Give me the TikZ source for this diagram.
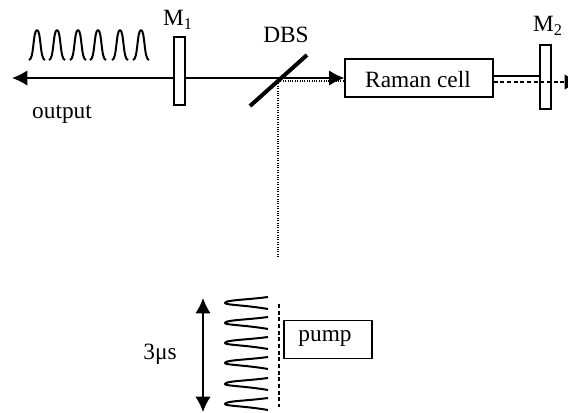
\documentclass[tikz,border=0pt]{standalone}
\usepackage{fontspec}
\setmainfont{Liberation Serif}
\usepackage{tikz}
\usetikzlibrary{arrows.meta,positioning}

\tikzset{
  box/.style={draw,line width=0.9pt,fill=white,inner sep=0pt,minimum width=#1},
  mirror/.style={draw,line width=0.9pt,fill=white,inner sep=0pt,minimum width=8.2pt},
  label/.style={inner sep=0pt,font=\fontsize{17.5}{20}\selectfont},
  beam/.style={line width=1.1pt},
  bigtip/.style={-{Latex[length=11.5pt,width=11.5pt]}},
  pulse/.style={line width=1.5pt,line join=round},
}

\begin{document}
\begin{tikzpicture}[x=0.75pt,y=-0.75pt]
  \useasboundingbox (0,0) rectangle (568,412);
  % cavity
  \node[mirror,minimum height=51pt] (mone) at (179.5,71) {};
  \node[mirror,minimum height=48pt] (mtwo) at (545.5,77) {};
  \node[box=111pt,minimum height=28.5pt] (cell) at (419,78) {};
  \node[label] (celllabel) at (418,80) {Raman cell};
  \node[label] (mlabone) at (178,20) {M\textsubscript{1}};
  \node[label] (mlabtwo) at (548,26) {M\textsubscript{2}};
  \node[label] (dbslabel) at (286,35) {DBS};
  \node[label] (outlabel) at (62,114) {output};
  \coordinate (dbsa) at (250,106);
  \coordinate (dbsb) at (307,55);
  \coordinate (dbsc) at (278,78);
  \coordinate (outend) at (12,78);
  \coordinate (farend) at (580,82);
  \coordinate (drop) at (278,257);
  \draw[densely dotted,line width=0.8pt] (278,81) -- (cell.west |- 0,81);
  \draw[densely dotted,line width=0.8pt] (278,81) -- (drop);
  \draw[line width=3pt] (dbsa) -- (dbsb);
  \draw[beam,bigtip] (mone.west |- dbsc) -- (outend);
  \draw[beam,bigtip] (mone.east |- dbsc) -- (cell.west |- dbsc);
  \draw[beam] (cell.east |- 0,76) -- (mtwo.west |- 0,76);
  \draw[densely dashed,line width=0.9pt,bigtip] (cell.east |- farend) -- (farend);
  % output pulses
  \foreach \x in {37,57,78,98,120,141}
    \draw[pulse] (\x-8,60) .. controls (\x-3,60) and (\x-4,30) .. (\x,30)
      .. controls (\x+4,30) and (\x+3,60) .. (\x+8,60);
  % pump
  \node[box=66pt,minimum height=29pt] (pump) at (328,339.5) {};
  \node[label] (pumplabel) at (325,338) {pump};
  \node[label] (width) at (160,354) {3μs};
  \coordinate (top) at (203,298);
  \coordinate (bot) at (203,412);
  \coordinate (dasha) at (279,304);
  \coordinate (dashb) at (279,407);
  \draw[beam,{Latex[length=11.5pt,width=11.5pt]}-{Latex[length=11.5pt,width=11.5pt]}] (top) -- (bot);
  \draw[densely dashed,line width=0.9pt] (dasha) -- (dashb);
  \foreach \y in {303,323,343,363,384,404}
    \draw[pulse] (268,\y-6) .. controls (245,\y-3) and (225,\y-3) .. (225,\y)
      .. controls (225,\y+2) and (245,\y+2) .. (268,\y+6);
\end{tikzpicture}
\end{document}
